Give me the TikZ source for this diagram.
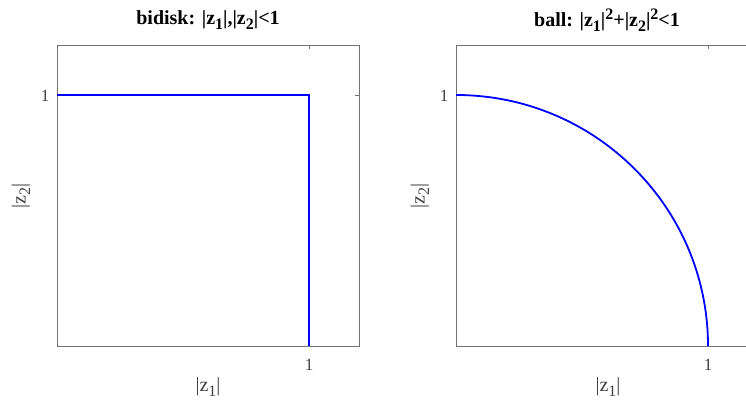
\documentclass[tikz,border=0pt]{standalone}
\usepackage{fontspec}
\usepackage{graphicx}
\setmainfont{Liberation Serif}
\newcommand\lowr[1]{\raisebox{-0.5ex}{\scalebox{0.8}{#1}}}
\newcommand\highr[1]{\raisebox{0.75ex}{\scalebox{0.8}{#1}}}
\begin{document}
\begin{tikzpicture}[x=1pt,y=-1pt,
  axbox/.style={draw=black!55,line width=0.9pt},
  tickmark/.style={draw=black!55,line width=0.7pt},
  curve/.style={draw=blue,line width=1.8pt},
  ttl/.style={font=\fontsize{20}{24}\selectfont\bfseries,inner sep=0pt},
  lbl/.style={font=\fontsize{20}{24}\selectfont,text=black!75,inner sep=0pt},
  ticklbl/.style={font=\fontsize{17}{20}\selectfont,text=black!75,inner sep=0pt}]
\useasboundingbox (0,0) rectangle (746,405);
\clip (0,0) rectangle (746,405);
% left panel
\draw[axbox] (57,45) rectangle (359,346);
\draw[tickmark] (309,45) -- (309,49);
\draw[tickmark] (359,95) -- (355,95);
\coordinate (a0) at (57,95);
\coordinate (a1) at (309,95);
\coordinate (a2) at (309,346);
\draw[curve] (a0) -- (a1) -- (a2);
\node[ttl] (t1) at (208,20) {bidisk: |z\lowr{1}|,|z\lowr{2}|<1};
\node[ticklbl] (y1) at (45,96) {1};
\node[ticklbl] (x1) at (309,365) {1};
\node[lbl] (xl1) at (208,387) {|z\lowr{1}|};
\node[lbl,rotate=90] (yl1) at (21,196) {|z\lowr{2}|};
% right panel
\draw[axbox] (456,45) rectangle (758,346);
\draw[tickmark] (708,45) -- (708,49);
\coordinate (b0) at (456,95);
\coordinate (b1) at (708,346);
\draw[curve] (b0) arc[start angle=90,end angle=0,x radius=252,y radius=-251];
\node[ttl] (t2) at (607,20) {ball: |z\lowr{1}|\highr{2}+|z\lowr{2}|\highr{2}<1};
\node[ticklbl] (y2) at (444,96) {1};
\node[ticklbl] (x2) at (708,365) {1};
\node[lbl] (xl2) at (608,387) {|z\lowr{1}|};
\node[lbl,rotate=90] (yl2) at (420,196) {|z\lowr{2}|};
\end{tikzpicture}
\end{document}
